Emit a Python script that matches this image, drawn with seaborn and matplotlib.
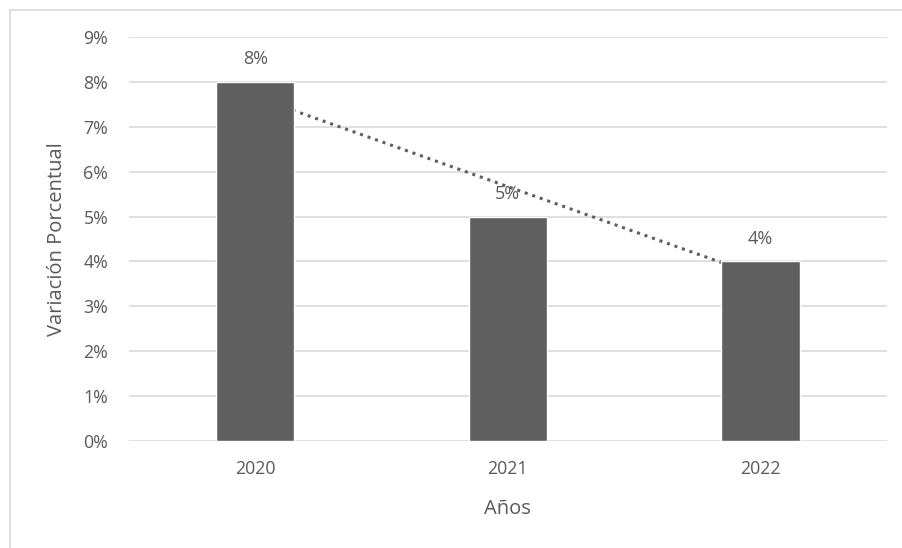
import numpy as np
import pandas as pd
import matplotlib.pyplot as plt
import seaborn as sns
from matplotlib.patches import Rectangle
from matplotlib.ticker import FuncFormatter

# datos
anios = ['2020', '2021', '2022']
variacion = [0.08, 0.05, 0.04]

df = pd.DataFrame({'Años': anios, 'Variación': variacion})

gris = '#5f5f5f'
texto = '#595959'
rejilla = '#d9d9d9'

sns.set_style('white')
plt.rcParams['font.family'] = ['Open Sans', 'DejaVu Sans']

fig = plt.figure(figsize=(9.02, 5.48), dpi=100)
ax = fig.add_axes([0.143, 0.1953, 0.840, 0.7372])

sns.barplot(data=df, x='Años', y='Variación', color=gris, width=0.31,
            saturation=1, ax=ax, zorder=3)

# linea de tendencia (ajuste lineal), queda detras de las barras
x = np.arange(len(variacion))
m, b = np.polyfit(x, variacion, 1)
ax.plot(x, m * x + b, linestyle=(0, (1, 1.6)), color=gris, lw=2.2, zorder=2)

# etiquetas de datos
for i, v in enumerate(variacion):
    ax.annotate(f'{v:.0%}', (i, v), xytext=(0, 16.5), textcoords='offset points',
                ha='center', va='center', fontsize=13, color=texto, zorder=4)

ax.set_ylim(0, 0.09)
ax.set_yticks(np.arange(0, 0.091, 0.01))
ax.yaxis.set_major_formatter(FuncFormatter(lambda y, _: f'{y:.0%}'))
ax.set_xlim(-0.5, 2.5)

ax.grid(axis='y', color=rejilla, lw=1.2, zorder=0)
ax.set_axisbelow(True)
for s in ax.spines.values():
    s.set_visible(False)
ax.tick_params(axis='both', length=0, labelsize=12.8, labelcolor=texto)
ax.tick_params(axis='y', pad=15)
ax.tick_params(axis='x', pad=14)

ax.set_xlabel('Años', fontsize=14.5, color=texto, labelpad=15)
ax.set_ylabel('Variación Porcentual', fontsize=14.5, color=texto, labelpad=12)

# borde del grafico
fig.patches.append(Rectangle((10 / 902, -0.1), 1.2, 1 - 10 / 548 + 0.1,
                             transform=fig.transFigure, fill=False,
                             edgecolor=rejilla, lw=1.2))

fig.savefig('out.png', dpi=100)
